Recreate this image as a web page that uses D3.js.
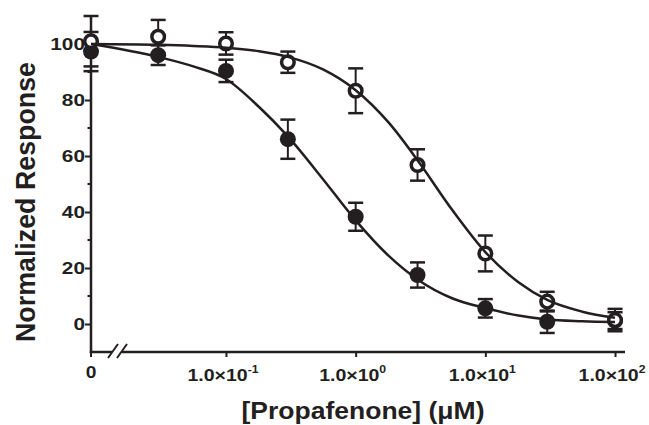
<!DOCTYPE html>
<html>
<head>
<meta charset="utf-8">
<script src="https://cdn.jsdelivr.net/npm/d3@7"></script>
<style>
  body { margin: 0; background: #fff; }
  text { font-family: "Liberation Sans", Arial, sans-serif; font-weight: bold; fill: #231f20; }
</style>
</head>
<body>
<div id="chart"></div>
<script>
// concentrations (uM), 0 = vehicle, drawn at the axis origin
const concs = [0, 0.03, 0.1, 0.3, 1, 3, 10, 30, 100];
const openMean = [101, 102.6, 100.2, 93.5, 83.3, 56.8, 25.2, 8, 1.4];
const openErr = [9, 6, 4, 3.8, 8, 5.6, 6.4, 3.5, 4];
const filledMean = [97.3, 96, 90.4, 66, 38.3, 17.5, 5.6, 0.8, 1.2];
const filledErr = [7, 3.5, 4, 7, 5, 4.5, 3.3, 4, 3];

// fitted curves
const fitX = [0, 0.03, 0.056, 0.1, 0.18, 0.3, 0.56, 1, 1.8, 3, 5.6, 10, 18, 30, 56, 100];
const openFit = [100, 99.7, 99.3, 98.7, 97.4, 95.4, 90.9, 83.5, 71.9, 58.5, 40.5, 25.7, 14.9, 8.6, 4.4, 2.2];
const filledFit = [100, 95.4, 92.0, 87.5, 77.5, 67, 51.7, 37, 24.3, 15.9, 9.1, 5.7, 3.0, 1.6, 1.0, 0.7];

const xTicks = [0.1, 1, 10, 100];
const xTickExp = ["-1", "0", "1", "2"];
const yTicks = [0, 20, 40, 60, 80, 100];
const yMinor = [10, 30, 50, 70, 90];

const ink = "#231f20";
const width = 649, height = 425;
const plotL = 91, plotR = 625, plotT = 16, plotB = 352;

const svg = d3.select("#chart").append("svg")
    .attr("width", width).attr("height", height);

const xLog = d3.scaleLog().domain([0.0091, 119.4]).range([plotL, plotR]);
const xPos = d => d === 0 ? plotL : xLog(d);
const y = d3.scaleLinear().domain([-10, 110]).range([plotB, plotT]);

// y axis
const yAxis = svg.append("g").attr("transform", `translate(${plotL},0)`)
    .call(d3.axisLeft(y).tickValues(yTicks).tickSize(6).tickFormat(""));
yAxis.select(".domain").remove();
yAxis.selectAll("line").attr("stroke", ink).attr("stroke-width", 2);
svg.append("g").selectAll("line").data(yMinor).join("line")
    .attr("x1", plotL - 3.5).attr("x2", plotL)
    .attr("y1", d => y(d)).attr("y2", d => y(d))
    .attr("stroke", ink).attr("stroke-width", 2);
svg.append("line").attr("x1", plotL).attr("x2", plotL)
    .attr("y1", plotT - 1).attr("y2", plotB + 1.2)
    .attr("stroke", ink).attr("stroke-width", 2.5);
svg.append("g").selectAll("text").data(yTicks).join("text")
    .attr("transform", d => `translate(85,${y(d) + 6}) scale(1.3,1)`)
    .attr("text-anchor", "end").attr("font-size", 16)
    .text(d => d);

// x axis
svg.append("line").attr("x1", plotL - 1.2).attr("x2", plotR)
    .attr("y1", plotB).attr("y2", plotB)
    .attr("stroke", ink).attr("stroke-width", 2.5);
const xAxis = svg.append("g").attr("transform", `translate(0,${plotB})`)
    .call(d3.axisBottom(xLog).tickValues(xTicks).tickSize(5).tickFormat(""));
xAxis.select(".domain").remove();
xAxis.selectAll("line").attr("stroke", ink).attr("stroke-width", 2);
svg.append("line").attr("x1", xPos(0)).attr("x2", xPos(0))
    .attr("y1", plotB).attr("y2", plotB + 5)
    .attr("stroke", ink).attr("stroke-width", 2);

// axis break
svg.append("rect").attr("x", 112).attr("y", plotB - 3).attr("width", 10).attr("height", 6).attr("fill", "#fff");
svg.append("g").selectAll("line").data([0, 9]).join("line")
    .attr("x1", d => 108 + d).attr("y1", plotB + 6)
    .attr("x2", d => 118 + d).attr("y2", plotB - 8)
    .attr("stroke", ink).attr("stroke-width", 2);

svg.append("text").attr("transform", `translate(${xPos(0)},378) scale(1.2,1)`)
    .attr("text-anchor", "middle").attr("font-size", 16).text("0");
const xl = svg.append("g").selectAll("g").data(xTicks).join("g")
    .attr("transform", d => `translate(${xLog(d) - 3},381) scale(1.22,1)`);
xl.append("text").attr("text-anchor", "middle").attr("font-size", 16)
    .each(function(d, i) {
        const t = d3.select(this);
        t.append("tspan").text("1.0\u00d710");
        t.append("tspan").attr("font-size", 10).attr("dy", -8).text(xTickExp[i]);
    });

// axis titles
svg.append("text").attr("x", 363).attr("y", 419)
    .attr("text-anchor", "middle").attr("font-size", 24)
    .attr("textLength", 243).attr("lengthAdjust", "spacingAndGlyphs")
    .text("[Propafenone] (\u03bcM)");
svg.append("text").attr("transform", "translate(35,202) rotate(-90)")
    .attr("text-anchor", "middle").attr("font-size", 27)
    .attr("textLength", 280).attr("lengthAdjust", "spacingAndGlyphs")
    .text("Normalized Response");

// series
const series = [
    {mean: filledMean, err: filledErr, fit: filledFit, filled: true},
    {mean: openMean, err: openErr, fit: openFit, filled: false}
];

const capW = 7.5;
series.forEach(s => {
    const pts = concs.map((c, i) => ({c, m: s.mean[i], e: s.err[i]}));
    const g = svg.append("g");
    g.selectAll(".eb").data(pts).join("line")
        .attr("x1", d => xPos(d.c)).attr("x2", d => xPos(d.c))
        .attr("y1", d => y(d.m + d.e)).attr("y2", d => y(d.m - d.e))
        .attr("stroke", ink).attr("stroke-width", 2);
    [1, -1].forEach(sg => {
        g.selectAll(null).data(pts).join("line")
            .attr("x1", d => xPos(d.c) - capW).attr("x2", d => xPos(d.c) + capW)
            .attr("y1", d => y(d.m + sg * d.e)).attr("y2", d => y(d.m + sg * d.e))
            .attr("stroke", ink).attr("stroke-width", 2.5);
    });
});

series.forEach(s => {
    const pts = concs.map((c, i) => ({c, m: s.mean[i]}));
    svg.append("g").selectAll("circle").data(pts).join("circle")
        .attr("cx", d => xPos(d.c)).attr("cy", d => y(d.m))
        .attr("r", s.filled ? 8 : 6.3)
        .attr("fill", s.filled ? ink : "#fff")
        .attr("stroke", ink).attr("stroke-width", s.filled ? 0 : 3.5);
});

const line = d3.line().x(d => xPos(d[0])).y(d => y(d[1])).curve(d3.curveMonotoneX);
series.forEach(s => {
    svg.append("path").datum(fitX.map((c, i) => [c, s.fit[i]]))
        .attr("d", line).attr("fill", "none")
        .attr("stroke", ink).attr("stroke-width", 2.5);
});
</script>
</body>
</html>
